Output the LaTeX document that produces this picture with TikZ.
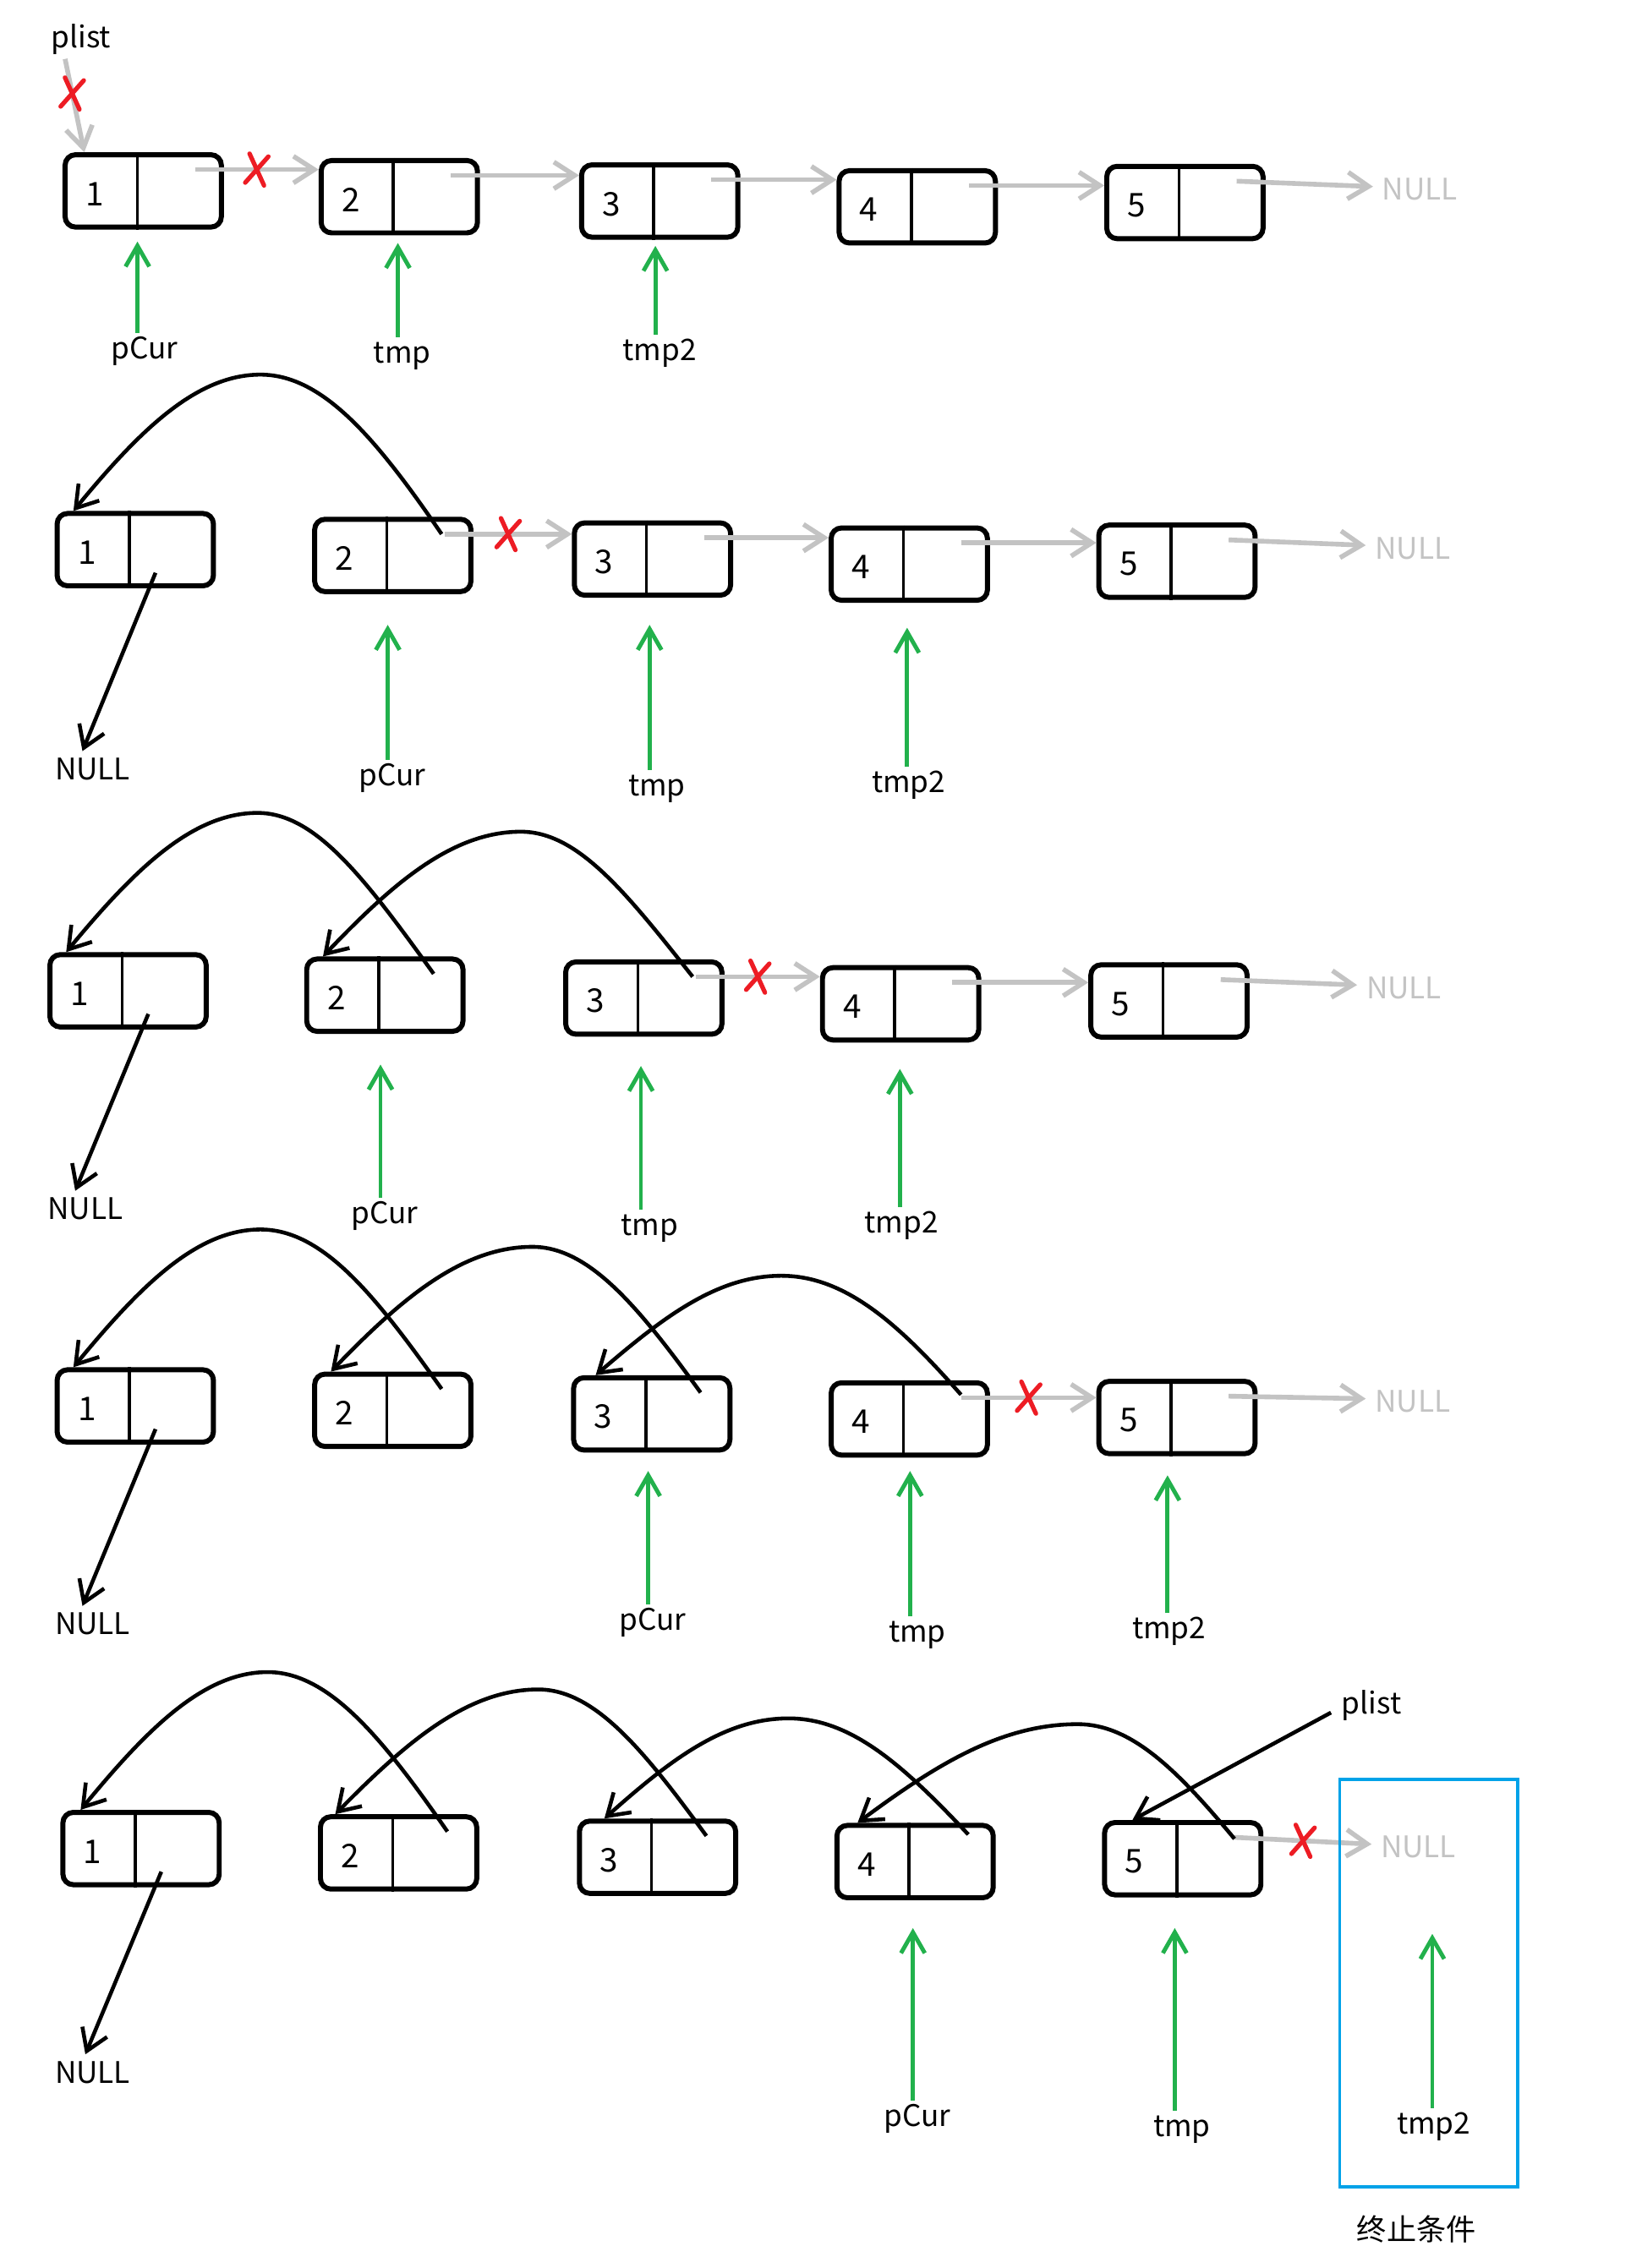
\documentclass[tikz,border=0pt]{standalone}
\usepackage{fontspec}
\setmainfont{Noto Sans CJK SC}
\usetikzlibrary{arrows.meta,calc}
\definecolor{pgray}{RGB}{195,195,195}
\definecolor{pgreen}{RGB}{34,177,76}
\definecolor{pred}{RGB}{237,28,36}
\definecolor{pblue}{RGB}{0,162,232}
\tikzset{
  cellbox/.style={draw, line width=1.7pt, rounded corners=3.5pt, minimum width=1.8476cm, minimum height=0.8554cm, inner sep=0pt},
  divider/.style={line width=1pt},
  num/.style={inner sep=0pt, font=\fontsize{11}{13}\selectfont},
  link/.style={pgray, line width=1.6pt, -{Straight Barb[length=7pt,width=9pt]}},
  ptr/.style={pgreen, line width=1.4pt, -{Straight Barb[length=7pt,width=8pt]}},
  rev/.style={black, line width=1.3pt, -{Straight Barb[length=7pt,width=9pt]}},
  redx/.style={pred, line width=1.5pt, line cap=round},
  lbl/.style={inner sep=1pt, text height=7.5pt, text depth=2.5pt},
  nulltext/.style={pgray, inner sep=0pt, anchor=west},
}
\newcommand\llcell[4]{%
  \node[cellbox] (#1) at (#2,#3) {};
  \draw[divider] ($(#1.north west)!0.463!(#1.north east)$) -- ($(#1.south west)!0.463!(#1.south east)$);
  \node[num] (#1n) at ($(#1.west)!0.2!(#1.east)+(0,2)$) {#4};
}
\newcommand\redcross[1]{%
  \draw[redx] ([shift={(-5,-11)}]#1) -- ([shift={(5,11)}]#1);
  \draw[redx] ([shift={(8,-9)}]#1) -- ([shift={(-8,9)}]#1);
}
\newcommand\glink[2]{%
  \coordinate (#1s) at ([shift={(-20,12)}]#1.north east);
  \draw[link] (#1s) -- (#1s -| #2.west);
}
\newcommand\glinkx[3]{%
  \coordinate (#1s) at ([shift={(-20,12)}]#1.north east);
  \draw[link] (#1s) -- coordinate[pos=.5] (#3) (#1s -| #2.west);
  \redcross{#3}
}
\newcommand\gptr[6]{%
  \coordinate (#1t) at (#2,#3);
  \node[lbl] (#1) at (#4,#5) {#6};
  \draw[ptr] (#1.north -| #1t) -- (#1t);
}
\begin{document}
\begin{tikzpicture}[x=0.017107cm, y=-0.017107cm, font=\fontsize{10}{12}\selectfont]
\useasboundingbox (0,0) rectangle (1127,1568);

% ---------------- Row 1 ----------------
\llcell{a1}{99}{132}{1}
\llcell{a2}{276}{136}{2}
\llcell{a3}{456}{139}{3}
\llcell{a4}{634}{143}{4}
\llcell{a5}{819}{140}{5}
\glinkx{a1}{a2}{xa}
\glink{a2}{a3}
\glink{a3}{a4}
\glink{a4}{a5}
\node[nulltext] (na) at (955,131) {NULL};
\draw[link] ([shift={(-20,12)}]a5.north east) -- ([shift={(-6,-2)}]na.west);
\node[lbl] (pl1) at (56,28) {plist};
\draw[link] ([shift={(-11,0)}]pl1.south) -- coordinate[pos=.37] (xp) ([shift={(15,0)}]a1.north west);
\redcross{xp}
\gptr{pa}{95}{167}{100}{243}{pCur}
\gptr{ta}{275}{168}{278}{246}{tmp}
\gptr{sa}{453}{170}{456}{244}{tmp2}

% ---------------- Row 2 ----------------
\llcell{b1}{93.5}{380}{1}
\llcell{b2}{271.5}{384}{2}
\llcell{b3}{451}{386.5}{3}
\llcell{b4}{628.5}{390}{4}
\llcell{b5}{813.5}{388}{5}
\glinkx{b2}{b3}{xb}
\glink{b3}{b4}
\glink{b4}{b5}
\node[nulltext] (nb) at (950,379) {NULL};
\draw[link] ([shift={(-20,12)}]b5.north east) -- ([shift={(-6,-2)}]nb.west);
\draw[rev] ([shift={(-22,12)}]b2.north east) .. controls (260,303) and (223,259) .. (180,259) .. controls (136,259) and (97,297) .. ([shift={(13,0)}]b1.north west);
\node[lbl] (nb1) at (64,534) {NULL};
\draw[rev] ([shift={(14,16)}]b1.center) -- ([shift={(-7,-2)}]nb1.north);
\gptr{pb}{268}{432}{271}{538}{pCur}
\gptr{tb}{449}{432}{454}{545}{tmp}
\gptr{sb}{627}{434}{628}{543}{tmp2}

% ---------------- Row 3 ----------------
\llcell{c1}{88.5}{685}{1}
\llcell{c2}{266}{688}{2}
\llcell{c3}{445}{690}{3}
\llcell{c4}{622.5}{694}{4}
\llcell{c5}{808}{692}{5}
\glinkx{c3}{c4}{xc}
\glink{c4}{c5}
\node[nulltext] (nc) at (944,683) {NULL};
\draw[link] ([shift={(-20,12)}]c5.north east) -- ([shift={(-6,-2)}]nc.west);
\draw[rev] ([shift={(-22,12)}]c2.north east) .. controls (252,607) and (218,562) .. (178,562) .. controls (133,562) and (93,601) .. ([shift={(13,0)}]c1.north west);
\draw[rev] ([shift={(-22,12)}]c3.north east) .. controls (432,616) and (399,575) .. (360,575) .. controls (313,575) and (272,610) .. ([shift={(13,0)}]c2.north west);
\node[lbl] (nc1) at (59,838) {NULL};
\draw[rev] ([shift={(14,16)}]c1.center) -- ([shift={(-7,-2)}]nc1.north);
\gptr{pc}{263}{736}{266}{841}{pCur}
\gptr{tc}{443}{737}{449}{849}{tmp}
\gptr{sc}{622}{739}{623}{847}{tmp2}

% ---------------- Row 4 ----------------
\llcell{d1}{93.5}{972}{1}
\llcell{d2}{271.5}{975}{2}
\llcell{d3}{450.5}{977.5}{3}
\llcell{d4}{628.5}{981}{4}
\llcell{d5}{813.5}{980}{5}
\glinkx{d4}{d5}{xd}
\node[nulltext] (nd) at (950,969) {NULL};
\draw[link] ([shift={(-20,12)}]d5.north east) -- ([shift={(-6,-2)}]nd.west);
\draw[rev] ([shift={(-22,12)}]d2.north east) .. controls (259,895) and (223,850) .. (180,850) .. controls (136,850) and (97,889) .. ([shift={(13,0)}]d1.north west);
\draw[rev] ([shift={(-22,12)}]d3.north east) .. controls (441,903) and (407,862) .. (368,862) .. controls (320,862) and (278,897) .. ([shift={(13,0)}]d2.north west);
\draw[rev] ([shift={(-20,10)}]d4.north east) .. controls (621,915) and (584,882) .. (540,882) .. controls (496,882) and (459,910) .. ([shift={(17,0)}]d3.north west);
\node[lbl] (nd1) at (64,1125) {NULL};
\draw[rev] ([shift={(14,16)}]d1.center) -- ([shift={(-7,-2)}]nd1.north);
\gptr{pd}{448}{1017}{451}{1122}{pCur}
\gptr{td}{629}{1017}{634}{1130}{tmp}
\gptr{sd}{807}{1020}{808}{1128}{tmp2}

% ---------------- Row 5 ----------------
\llcell{e1}{97.5}{1278}{1}
\llcell{e2}{275.5}{1281}{2}
\llcell{e3}{454.5}{1284}{3}
\llcell{e4}{632.5}{1287}{4}
\llcell{e5}{817.5}{1285}{5}
\node[nulltext] (ne) at (954,1277) {NULL};
\draw[link] ([shift={(-20,12)}]e5.north east) -- coordinate[pos=.5] (xe) ([shift={(-6,-2)}]ne.west);
\redcross{xe}
\draw[rev] ([shift={(-22,12)}]e2.north east) .. controls (264,1201) and (227,1156) .. (185,1156) .. controls (141,1156) and (102,1195) .. ([shift={(14,0)}]e1.north west);
\draw[rev] ([shift={(-22,12)}]e3.north east) .. controls (445,1210) and (411,1168) .. (372,1168) .. controls (324,1168) and (282,1203) .. ([shift={(12,0)}]e2.north west);
\draw[rev] ([shift={(-19,8)}]e4.north east) .. controls (624,1220) and (588,1188) .. (545,1188) .. controls (501,1188) and (464,1216) .. ([shift={(19,0)}]e3.north west);
\draw[rev] ([shift={(-20,13)}]e5.north east) .. controls (814,1224) and (782,1192) .. (745,1192) .. controls (692,1192) and (647,1220) .. ([shift={(16,0)}]e4.north west);
\node[lbl] (pl5) at (948,1180) {plist};
\draw[rev] ([shift={(-5,4)}]pl5.west) -- ([shift={(21,0)}]e5.north west);
\node[lbl] (ne1) at (64,1435) {NULL};
\draw[rev] ([shift={(14,16)}]e1.center) -- ([shift={(-5,-2)}]ne1.north);
\gptr{pe}{631}{1333}{634}{1465}{pCur}
\gptr{te}{812}{1333}{817}{1472}{tmp}
\gptr{se}{990}{1337}{991}{1470}{tmp2}
\node[draw=pblue, line width=1.1pt, minimum width=2.104cm, minimum height=4.824cm, inner sep=0pt] (stop) at (987.5,1371) {};
\node[inner sep=0pt] (stoplbl) at (979,1541) {终止条件};
\end{tikzpicture}
\end{document}
